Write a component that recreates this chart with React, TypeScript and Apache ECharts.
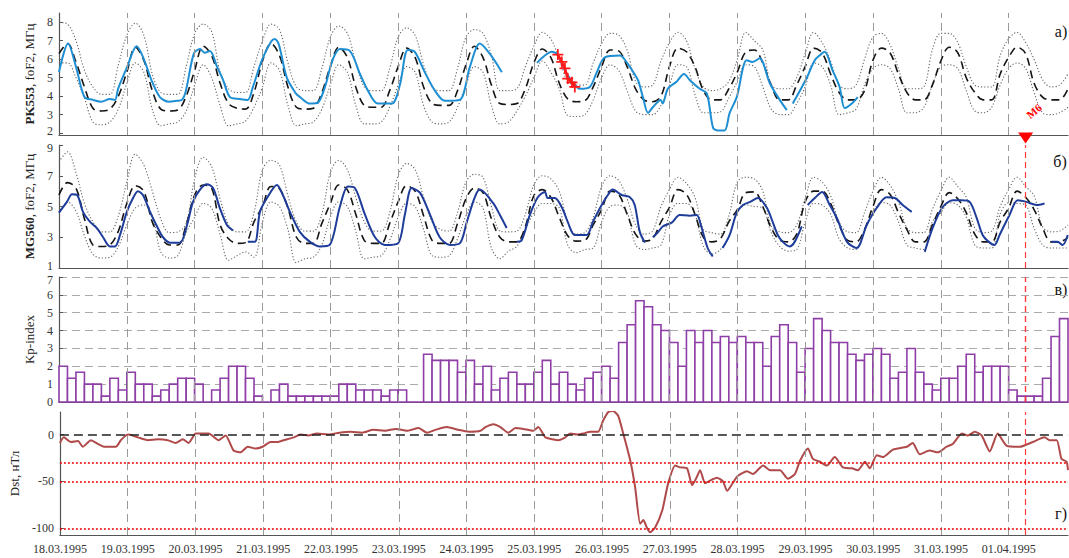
import React, { useEffect, useRef } from 'react';
import * as echarts from 'echarts';

const FONT = '"Liberation Serif", "Times New Roman", serif';

// x axis: hours since 18.03.1995 00:00 UT
const dayTicks = [0, 24, 48, 72, 96, 120, 144, 168, 192, 216, 240, 264, 288, 312, 336];
const dateLabels = ['18.03.1995', '19.03.1995', '20.03.1995', '21.03.1995', '22.03.1995', '23.03.1995', '24.03.1995',
  '25.03.1995', '26.03.1995', '27.03.1995', '28.03.1995', '29.03.1995', '30.03.1995', '31.03.1995', '01.04.1995'];
const STEP = 3; // hours between median/quartile samples
const END_HOUR = 357;
const M6_HOUR = 342;

// PK553 foF2 (MHz): 27-day median and quartiles, 3-hour samples
const medianA = [
  6.3, 6.85, 5.85, 4.5, 3.35, 3.2, 3.3, 4.0,
  5.3, 6.65, 5.95, 4.3, 3.3, 3.2, 3.25, 4.0,
  5.4, 6.7, 6.2, 4.7, 3.6, 3.35, 3.3, 4.2,
  5.9, 6.85, 6.2, 4.5, 3.4, 3.3, 3.35, 4.2,
  5.6, 6.65, 6.1, 4.5, 3.5, 3.4, 3.4, 4.3,
  5.6, 6.6, 6.1, 4.5, 3.6, 3.5, 3.5, 4.3,
  5.7, 6.7, 6.1, 4.6, 3.6, 3.55, 3.6, 4.4,
  5.8, 6.55, 6.1, 4.7, 3.85, 3.7, 3.75, 4.5,
  5.6, 6.5, 6.45, 5.6, 4.4, 3.8, 3.7, 4.0,
  5.6, 6.6, 6.4, 5.6, 4.3, 3.8, 3.8, 4.4,
  5.3, 6.4, 6.5, 5.8, 4.6, 3.8, 3.8, 4.6,
  5.6, 6.6, 6.35, 5.2, 4.2, 3.8, 3.8, 4.3,
  5.95, 6.6, 6.35, 5.2, 4.2, 3.8, 3.8, 4.6,
  5.9, 6.65, 6.35, 5.0, 4.2, 3.8, 3.8, 5.2,
  6.1, 6.65, 6.3, 4.7, 3.95, 3.8, 3.8, 4.4,
];
const upperA = [
  8.0, 7.9, 7.0, 5.4, 4.5, 4.1, 4.1, 5.7,
  7.3, 7.95, 7.3, 5.2, 4.2, 4.1, 4.1, 5.6,
  7.4, 7.9, 7.5, 5.3, 4.4, 4.2, 4.2, 5.6,
  7.0, 7.9, 7.6, 5.8, 4.5, 4.3, 4.3, 5.5,
  7.2, 7.8, 7.4, 5.8, 4.5, 4.3, 4.3, 5.5,
  7.2, 7.7, 7.3, 5.7, 4.5, 4.3, 4.3, 5.5,
  7.2, 7.6, 7.4, 6.2, 4.3, 4.3, 4.4, 5.6,
  6.7, 7.45, 7.1, 6.0, 4.8, 4.6, 4.6, 5.8,
  6.85, 7.4, 7.3, 6.5, 4.8, 4.5, 4.6, 5.9,
  6.9, 7.45, 7.0, 5.5, 4.5, 4.3, 4.4, 4.8,
  6.0, 7.45, 7.0, 6.5, 4.6, 4.4, 4.4, 5.0,
  6.3, 7.45, 6.9, 5.9, 4.6, 4.4, 4.6, 6.0,
  7.2, 7.4, 6.8, 5.5, 4.4, 4.4, 4.5, 6.5,
  7.4, 7.4, 6.9, 5.6, 4.6, 4.5, 4.5, 6.2,
  7.1, 7.45, 6.9, 6.0, 4.9, 4.5, 4.6, 5.2,
];
const lowerA = [
  5.8, 5.8, 5.0, 3.9, 2.6, 2.45, 2.6, 3.3,
  4.7, 5.8, 5.3, 3.3, 2.4, 2.5, 2.6, 3.2,
  4.6, 5.7, 5.0, 3.5, 2.4, 2.5, 2.65, 3.4,
  4.5, 5.8, 5.4, 3.5, 2.4, 2.5, 2.6, 3.3,
  4.6, 5.7, 5.3, 3.5, 2.5, 2.5, 2.6, 3.4,
  4.6, 5.6, 5.3, 3.5, 2.6, 2.5, 2.6, 3.4,
  4.6, 5.6, 5.3, 3.5, 2.5, 2.6, 3.2, 4.0,
  5.0, 5.9, 5.3, 4.4, 2.95, 2.9, 3.0, 3.8,
  5.0, 5.7, 5.4, 4.3, 3.2, 3.0, 3.0, 3.5,
  4.6, 5.7, 5.6, 4.1, 3.1, 3.1, 3.15, 3.9,
  4.8, 5.7, 5.6, 4.5, 3.3, 3.0, 3.0, 3.6,
  4.5, 5.8, 5.6, 4.6, 3.0, 3.1, 3.3, 4.6,
  5.5, 5.7, 5.5, 4.4, 3.1, 3.1, 3.4, 4.6,
  5.6, 5.7, 5.5, 4.3, 3.2, 3.1, 3.4, 4.6,
  5.5, 5.8, 5.5, 4.2, 3.1, 3.0, 3.1, 3.4,
];

// MG560 foF2 (MHz): 27-day median and quartiles, 3-hour samples
const medianB = [
  5.75, 6.55, 6.2, 4.2, 2.5, 2.4, 2.5, 3.4,
  5.2, 6.35, 6.0, 4.0, 3.0, 2.5, 2.5, 3.8,
  5.75, 6.4, 6.2, 3.8, 2.9, 2.6, 2.65, 4.0,
  5.0, 6.3, 6.15, 4.9, 3.0, 2.6, 2.6, 3.9,
  5.2, 6.4, 6.1, 4.5, 2.8, 2.6, 2.6, 3.9,
  5.3, 6.35, 6.0, 4.4, 2.8, 2.6, 2.6, 3.9,
  5.5, 6.2, 5.9, 4.2, 3.0, 2.7, 2.7, 3.7,
  5.7, 6.1, 5.6, 4.3, 3.1, 2.75, 2.8, 3.8,
  4.8, 6.0, 5.8, 4.5, 3.2, 2.75, 2.9, 4.0,
  4.95, 6.1, 5.8, 4.5, 3.0, 2.7, 2.9, 4.0,
  4.8, 5.9, 5.95, 5.0, 3.6, 2.8, 2.7, 3.2,
  5.3, 6.0, 6.0, 5.2, 3.8, 2.8, 2.7, 3.5,
  5.0, 6.1, 5.8, 4.6, 3.5, 2.7, 2.7, 3.8,
  5.0, 5.9, 5.5, 4.6, 3.2, 2.7, 2.7, 4.0,
  4.9, 6.0, 5.6, 4.8, 3.6, 2.7, 2.7, 3.0,
];
const upperB = [
  7.9, 8.55, 7.2, 5.2, 4.0, 3.35, 3.35, 4.4,
  6.6, 8.4, 7.7, 6.0, 4.2, 3.3, 3.35, 3.9,
  6.8, 8.2, 7.6, 5.5, 3.8, 3.35, 3.35, 4.6,
  7.4, 8.0, 7.7, 5.7, 4.0, 3.4, 3.4, 4.5,
  7.2, 8.0, 7.4, 5.6, 4.0, 3.4, 3.4, 4.6,
  7.0, 7.8, 7.4, 5.6, 4.0, 3.5, 3.4, 4.6,
  6.6, 7.1, 6.9, 5.0, 3.4, 3.35, 3.4, 4.5,
  6.4, 7.0, 6.8, 6.0, 4.0, 3.2, 3.3, 4.3,
  6.3, 7.0, 6.7, 5.5, 3.8, 3.2, 3.4, 5.0,
  6.1, 6.9, 6.5, 5.6, 3.5, 3.3, 3.2, 4.4,
  6.6, 6.9, 6.8, 6.0, 3.7, 3.35, 3.3, 3.8,
  5.5, 6.9, 6.6, 5.7, 4.0, 3.35, 3.3, 4.6,
  6.0, 6.9, 6.4, 5.3, 3.6, 3.3, 3.3, 4.8,
  6.0, 6.9, 6.3, 5.6, 3.6, 3.3, 3.4, 5.0,
  6.1, 6.9, 6.3, 5.7, 3.7, 3.35, 3.4, 3.8,
];
const lowerB = [
  4.6, 5.3, 4.7, 3.1, 1.9, 1.65, 1.7, 2.4,
  3.8, 4.9, 5.1, 4.4, 2.05, 1.65, 1.8, 3.3,
  4.3, 5.2, 4.9, 3.2, 1.5, 1.8, 2.05, 1.7,
  4.0, 5.3, 5.0, 3.5, 1.35, 1.6, 1.7, 2.5,
  4.3, 5.3, 5.0, 3.4, 1.6, 1.7, 1.8, 2.8,
  4.3, 5.2, 5.0, 3.5, 1.8, 1.7, 1.8, 2.9,
  4.4, 5.3, 4.9, 2.3, 1.6, 2.1, 2.4, 3.5,
  4.6, 5.2, 5.2, 4.9, 2.5, 2.0, 2.2, 2.3,
  4.0, 5.0, 5.1, 4.6, 2.5, 2.2, 2.3, 2.5,
  4.45, 5.2, 5.2, 4.5, 2.4, 1.9, 2.2, 3.0,
  4.6, 5.1, 5.0, 4.9, 3.3, 2.4, 2.1, 2.2,
  4.0, 5.2, 5.1, 4.5, 2.9, 2.3, 2.2, 3.5,
  4.7, 5.25, 5.1, 4.0, 2.5, 2.3, 2.2, 4.0,
  4.6, 5.25, 5.1, 4.3, 2.5, 2.3, 2.3, 4.5,
  5.25, 5.2, 5.1, 3.6, 2.5, 2.3, 2.3, 2.3,
];

// Observed foF2 [hour, MHz]; null marks a data gap
const pk553Obs: [number, number | null][] = [
  [0, 5.3], [3.2, 6.85], [6, 5.6], [9, 3.96], [12, 3.8], [14.9, 3.7], [18, 3.85], [19.8, 3.8], [20.9, 4.4],
  [23.9, 5.5], [27.5, 6.7], [29.9, 6.05], [32.9, 4.8], [35.7, 3.95], [38.9, 3.7], [41.7, 3.75], [43.5, 3.8],
  [44.9, 4.3], [47.7, 6.3], [49.9, 6.55], [51.6, 6.35], [53.4, 6.45], [55.9, 5.6], [58, 4.9], [60.5, 3.95],
  [64, 3.85], [66.8, 3.8], [68.6, 4.5], [71.8, 5.95], [75, 6.95], [76.4, 7.1], [77.8, 6.8], [80.6, 5.0],
  [83.8, 4.15], [85.2, 3.96], [88.8, 3.6], [91.6, 3.65], [94.1, 4.5], [96.9, 6.0], [99.4, 6.55], [102.9, 6.45],
  [106.5, 5.2], [109.3, 4.3], [112.8, 3.6], [117.8, 3.6], [120.6, 4.6], [123.4, 6.5], [125.9, 6.4], [129.4, 5.3],
  [133, 4.3], [136.5, 3.75], [141.8, 3.8], [145.4, 5.6], [148.9, 6.85], [152.4, 6.3], [156.7, 5.3],
  [162, null],
  [169.1, 5.8], [171.9, 6.2], [174.4, 6.4], [176.5, 6.2], [179, 5.4], [181.5, 4.8], [184.3, 4.4], [187.8, 4.5],
  [190.3, 5.3], [193.1, 6.1], [198.5, 6.2], [201, 5.8], [203.2, 5.3], [204.9, 4.85], [206.6, 3.95], [208.4, 3.1],
  [210.1, 3.4], [212.9, 3.8], [213.6, 3.6], [215.4, 4.4], [218.6, 4.8], [221.1, 5.2], [223.3, 4.85], [226.7, 4.4],
  [229.2, 4.15], [231.4, 2.3], [233.1, 2.15], [235.5, 2.15], [237.3, 3.1], [239.8, 3.95], [243.3, 5.95],
  [245.4, 5.85], [247.9, 6.05], [251.5, 4.7], [255, 3.8], [257.5, 3.25],
  [258.5, null],
  [259.6, 3.6], [264.6, 5.0], [267.4, 5.95], [269.1, 6.2], [270.9, 6.4], [273.7, 5.4], [276.2, 4.5], [278, 3.35],
  [280.5, 3.6], [282.6, 3.95],
];
// flagged (red) PK553 values
const pk553Flagged: [number, number][] = [
  [176.5, 6.25], [177.9, 5.85], [179, 5.5], [180, 4.95], [181.5, 4.75], [182.5, 4.5],
];
const mg560Obs: [number, number | null][] = [
  [0, 4.6], [2.8, 5.3], [4.6, 5.8], [6.4, 5.75], [8.5, 4.65], [11, 4.0], [13.4, 3.6], [15.6, 3.0], [18, 2.4],
  [19.8, 2.4], [21.6, 3.15], [24, 4.65], [26.2, 5.55], [27.9, 6.0], [29.7, 5.75], [32.2, 4.65], [34.7, 3.7],
  [36.8, 3.0], [39.3, 2.65], [42.8, 2.65], [45.3, 3.8], [47.4, 5.3], [49.9, 6.1], [52.3, 6.45], [54.5, 6.2],
  [56.9, 4.9], [59.4, 3.8], [61.5, 3.45],
  [64, null],
  [66.8, 2.7], [69.3, 2.7], [71.1, 4.65], [73.6, 5.55], [77.1, 6.4], [79.2, 5.75], [81.7, 4.65], [85.2, 3.35],
  [88.8, 2.7], [92.3, 2.4], [95.8, 2.5], [99.4, 5.0], [102.2, 6.3], [104.7, 6.2], [108.2, 4.5], [111.8, 3.0],
  [115.3, 2.5], [119.9, 2.6], [122.4, 4.5], [124.8, 6.2], [127.7, 5.9], [131.2, 4.5], [134.7, 3.0], [138.3, 2.5],
  [141.8, 2.6], [144.3, 4.0], [147.1, 5.6], [148.9, 6.1], [153.5, 5.25], [156, 4.45], [158.4, 3.6],
  [160, null],
  [162, 2.7], [163.7, 2.8], [166.6, 4.45], [169.4, 5.6], [171.9, 5.95], [172.9, 5.55], [175.4, 5.55],
  [177.9, 4.95], [180, 4.0], [182.5, 3.15], [186.7, 3.15], [188.9, 4.0], [192, 5.1], [194.2, 5.75], [195.9, 6.1],
  [199.1, 5.75], [202, 5.6], [203.7, 5.1], [205.5, 3.35], [207.3, 2.65],
  [208.5, null],
  [210.1, 3.0], [211.8, 3.3], [213.6, 3.7], [216.8, 3.95], [219.6, 4.45], [223.2, 4.4], [225.6, 4.45],
  [227.4, 3.6], [229.5, 2.3], [231.3, 1.75],
  [233, null],
  [234.8, 2.3], [237.3, 3.15], [239.8, 4.6], [242, 5.1], [244.5, 5.3], [247.3, 5.55], [250.5, 4.9], [252.5, 4.0],
  [254.3, 3.15], [256.1, 2.7], [258.5, 2.4], [260.3, 2.7], [262.8, 3.7],
  [263.8, null],
  [264.9, 5.1], [267.4, 5.55], [270, 5.95], [272.7, 5.1], [275.2, 4.25], [278.8, 2.7], [282.2, 2.3], [285.8, 3.8],
  [289.3, 4.9], [292.8, 5.6], [295.7, 5.55], [298.5, 5.1], [301.7, 4.65],
  [304, null],
  [306.3, 2.05], [309.1, 3.6], [312.6, 4.95], [316.2, 5.4], [319.4, 5.4], [322.2, 5.3], [324.7, 4.25],
  [326.8, 3.15], [329.3, 2.65], [331, 2.5], [332.8, 3.15], [336.3, 4.45], [339.2, 5.4], [342.3, 5.3],
  [345.9, 5.1], [348.7, 5.2],
  [350, null],
  [351.2, 2.7], [353.3, 2.7], [355.1, 2.5], [356.9, 3.15],
];

// Kp index, 3-hour bars from 18.03.1995 00 UT
const kpValues = [
  2, 1.33, 1.67, 1, 1, 0.33, 1.33, 0.67, 1.67, 1, 1, 0.33, 0.67, 1, 1.33, 1.33, 1, 0, 0.67, 1.33,
  2, 2, 1.33, 0.33, 0, 0.67, 1, 0.33, 0.33, 0.33, 0.33, 0.33, 0.33, 1, 1, 0.67, 0.67, 0.67, 0.33, 0.67,
  0.67, 0, 0, 2.67, 2.33, 2.33, 2.33, 1.67, 2.33, 1, 2, 0.67, 1.33, 1.67, 1, 1, 1.67, 2.33, 1, 1.67,
  1, 0.67, 1.33, 1.67, 2, 1.33, 3.33, 4.33, 5.67, 5.33, 4.33, 4, 3.33, 2, 4, 3.33, 4, 3.33, 3.67, 3.33,
  3.67, 3.33, 3.33, 2, 3.67, 4.33, 3.33, 1.67, 3, 4.67, 4, 3.33, 3.33, 2.67, 2.33, 2.67, 3, 2.67, 1.33, 1.67,
  3, 1.67, 1, 0.67, 1.33, 1.33, 2, 2.67, 1.67, 2, 2, 2, 0.67, 0.33, 0.33, 0.33, 1.33, 3.67, 4.67,
];

// Dst index (nT)
const dstHours = [
  0, 1.4, 3.9, 6.4, 8.1, 11, 13.4, 15.6, 19.8, 21.6, 23.3, 24.4, 27.6, 31.1, 34.7, 38.2, 41, 43.5, 45.6, 48.1,
  49.9, 52.7, 56.2, 58.7, 61.5, 64, 66.5, 69.3, 71.8, 74.6, 77.1, 79.2, 82.8, 85.2, 88, 91, 95, 99, 103, 107,
  111, 115, 119, 123, 127, 130, 133, 137, 141, 145, 148.9, 150.7, 153.5, 156, 158.8, 161.3, 164.1, 167.6, 169.4,
  171.9, 174.4, 176.5, 179, 180.7, 183.2, 185.3, 187.8, 190.6, 192.4, 194.2, 195.9, 197.7, 199.5, 202, 203.7,
  205.5, 206.6, 208, 209, 210.8, 213.3, 215.4, 217.9, 219.6, 222.1, 223.9, 225.6, 226.7, 228.5, 230.2, 232.7,
  234.8, 236.3, 238.4, 240.1, 243.3, 245.4, 249, 251.5, 255, 257.8, 260.3, 262.1, 264.9, 266.7, 269.1, 271.6,
  274.4, 277.3, 280.5, 282.6, 285.1, 286.8, 289.3, 291.4, 295, 299.9, 302, 304.5, 308, 310.9, 314, 316.2,
  319.4, 321.5, 324, 326.4, 329.3, 332.1, 335.3, 339.9, 344.5, 348.7, 350.5, 353, 354.7, 356.5, 357,
];
const dstValues = [
  -9, -3, -8, -7, -13, -6, -10, -13, -13, -6, -1, 0, -3, -6, -5, -6, -9, -5, -9, 1,
  1, 1, -6, -1, -17, -19, -13, -15, -13, -8, -8, -6, -3, 0, -1, 1, 0, 2, 3, 2,
  5, 4, 6, 4, 7, 2, 5, 8, 5, 3, 4, 8, 11, 8, 2, 7, 6, 4, 8,
  -3, -5, -6, -3, 1, 0, 1, 3, 3, 15, 24, 25, 20, 1, -28, -56,
  -95, -91, -100, -104, -99, -81, -52, -33, -35, -36, -54, -45, -38, -52, -49, -46,
  -50, -60, -51, -44, -39, -42, -33, -38, -38, -47, -42, -28, -15, -26, -29, -33,
  -24, -35, -36, -38, -29, -36, -22, -24, -16, -13, -9, -21, -17, -19, -13, -10,
  1, -1, 3, -1, -18, 1, -12, -13, -8, -3, -6, -6, -26, -29, -38,
];
const dstMarkLevels = [-30, -50, -100];

const gridSpecs = [
  { top: 13, height: 122 },
  { top: 145, height: 123 },
  { top: 277, height: 125 },
  { top: 412, height: 123 },
];

function toPairs(values: number[]) {
  return values.map((v, i) => [i * STEP, v]);
}

export default function App() {
  const ref = useRef<HTMLDivElement>(null);
  useEffect(() => {
    if (!ref.current) return;
    const chart = echarts.init(ref.current, undefined, { renderer: 'svg' });

    const axisColor = '#555';
    const labelStyle = { fontFamily: FONT, fontSize: 12, color: '#333' };
    // labels sitting at a panel edge are nudged a little away from the neighbouring panel
    const yRich = {
      up: { ...labelStyle, padding: [0, 0, 5, 0] },
      down: { ...labelStyle, padding: [5, 0, 0, 0] },
    };
    const edgeFormatter = (upVals: number[], downVals: number[]) => (v: number) =>
      upVals.includes(v) ? `{up|${v}}` : downVals.includes(v) ? `{down|${v}}` : String(v);
    const dayLineData = dayTicks.slice(1).map((d) => ({ xAxis: d }));
    const m6Line = { xAxis: M6_HOUR, lineStyle: { color: '#ff3b3b', type: [6, 4], width: 1.2 } };

    const xAxes = gridSpecs.map((_, i) => ({
      type: 'value',
      gridIndex: i,
      min: 0,
      max: END_HOUR,
      axisLine: { show: true, onZero: false, lineStyle: { color: axisColor, width: 1.2 } },
      axisTick: { show: true, inside: true, length: 5, customValues: dayTicks, lineStyle: { color: axisColor } },
      axisLabel: i === 3
        ? { show: true, margin: 8, customValues: dayTicks, ...labelStyle,
            formatter: (v: number) => dateLabels[Math.round(v / 24)] ?? '' }
        : { show: false },
      splitLine: { show: false },
    }));

    const nameStyle = { fontFamily: FONT, fontSize: 13, color: '#222' };
    const richName = { ...nameStyle, rich: { b: { ...nameStyle, fontWeight: 'bold' } } };

    const yBase = (i: number, extra: any) => ({
      type: 'value',
      gridIndex: i,
      axisLine: { show: true, lineStyle: { color: axisColor, width: 1.2 } },
      axisTick: { show: true, inside: true, length: 4, lineStyle: { color: axisColor } },
      axisLabel: { show: true, margin: 6, ...labelStyle },
      splitLine: { show: false },
      nameLocation: 'middle',
      nameRotate: 90,
      nameTextStyle: nameStyle,
      ...extra,
    });

    const yAxes = [
      yBase(0, {
        min: 1.9, max: 8.5,
        axisTick: { show: true, inside: true, length: 4, customValues: [2, 3, 4, 5, 6, 7, 8], lineStyle: { color: axisColor } },
        axisLabel: { show: true, margin: 6, customValues: [2, 3, 4, 5, 6, 7, 8], ...labelStyle,
          formatter: edgeFormatter([2], []), rich: yRich },
        name: '{b|PK553}, foF2, МГц', nameGap: 18, nameTextStyle: richName,
      }),
      yBase(1, {
        min: 1, max: 9,
        axisTick: { show: true, inside: true, length: 4, customValues: [1, 3, 5, 7, 9], lineStyle: { color: axisColor } },
        axisLabel: { show: true, margin: 6, customValues: [1, 3, 5, 7, 9], ...labelStyle,
          formatter: edgeFormatter([1], [9]), rich: yRich },
        name: '{b|MG560}, foF2, МГц', nameGap: 18, nameTextStyle: richName,
      }),
      yBase(2, {
        min: 0, max: 7, interval: 1,
        axisLabel: { show: true, margin: 6, ...labelStyle, formatter: edgeFormatter([], [7]), rich: yRich },
        splitLine: { show: true, lineStyle: { color: '#aaa', type: [8, 5], width: 1 } },
        name: 'Kp-index', nameGap: 18,
      }),
      yBase(3, {
        min: -107, max: 24,
        axisTick: { show: true, inside: true, length: 4, customValues: [-100, -50, 0], lineStyle: { color: axisColor } },
        axisLabel: { show: true, margin: 6, customValues: [-100, -50, 0], ...labelStyle },
        name: 'Dst, нТл', nameGap: 34,
      }),
    ];

    const dotted = (data: number[][], gi: number) => ({
      type: 'line', xAxisIndex: gi, yAxisIndex: gi, data, showSymbol: false, smooth: 0.35, z: 2,
      lineStyle: { color: '#666', width: 1.1, type: [1.2, 2] }, silent: true,
    });
    const dashed = (data: number[][], gi: number) => ({
      type: 'line', xAxisIndex: gi, yAxisIndex: gi, data, showSymbol: false, smooth: 0.35, z: 3,
      lineStyle: { color: '#151515', width: 1.6, type: [8, 5] }, silent: true,
    });
    const markHolder = (gi: number, data: any[], extra: any = {}) => ({
      type: 'line', xAxisIndex: gi, yAxisIndex: gi, data: [], z: 1, silent: true,
      markLine: {
        silent: true, symbol: 'none', animation: false, label: { show: false },
        lineStyle: { color: '#9a9a9a', type: [8, 5], width: 1 },
        data,
      },
      ...extra,
    });

    const plusPath = 'path://M-1,-0.16H1V0.16H-1Z M-0.16,-1H0.16V1H-0.16Z';

    const option: any = {
      animation: false,
      backgroundColor: '#fff',
      grid: gridSpecs.map((g) => ({ left: 59, right: 1, top: g.top, height: g.height, containLabel: false })),
      xAxis: xAxes,
      yAxis: yAxes,
      series: [
        // panel a
        markHolder(0, dayLineData, {
          markPoint: {
            silent: true, animation: false,
            data: [
              { coord: [M6_HOUR, 1.9], symbol: 'triangle', symbolSize: [15, 11], symbolRotate: 180, symbolOffset: [0, 3],
                itemStyle: { color: '#ff0000' }, label: { show: false } },
              { coord: [M6_HOUR + 3, 3.2], symbol: 'circle', symbolSize: 0,
                label: { show: true, position: 'inside', formatter: 'M6', rotate: 40, color: '#ff0000',
                  fontFamily: FONT, fontSize: 11, fontWeight: 'bold' } },
            ],
          },
        }),
        dotted(toPairs(upperA), 0),
        dotted(toPairs(lowerA), 0),
        dashed(toPairs(medianA), 0),
        {
          type: 'line', xAxisIndex: 0, yAxisIndex: 0, data: pk553Obs, showSymbol: false, smooth: 0.3, connectNulls: false, z: 4,
          lineStyle: { color: '#1f8fd3', width: 2 }, silent: true,
        },
        {
          type: 'line', xAxisIndex: 0, yAxisIndex: 0, data: pk553Flagged, symbol: plusPath, symbolSize: 11, showSymbol: true, z: 5,
          lineStyle: { color: '#ff1a1a', width: 2.5 }, itemStyle: { color: '#ff1a1a', borderWidth: 0 }, silent: true,
        },
        // panel b
        markHolder(1, [...dayLineData, m6Line]),
        dotted(toPairs(upperB), 1),
        dotted(toPairs(lowerB), 1),
        dashed(toPairs(medianB), 1),
        {
          type: 'line', xAxisIndex: 1, yAxisIndex: 1, data: mg560Obs, showSymbol: false, smooth: 0.3, connectNulls: false, z: 4,
          lineStyle: { color: '#1e3c9a', width: 2 }, silent: true,
        },
        // panel c
        markHolder(2, [...dayLineData, m6Line]),
        {
          type: 'custom', xAxisIndex: 2, yAxisIndex: 2, z: 3, silent: true,
          data: kpValues.map((v, i) => [i * 3, v]),
          encode: { x: 0, y: 1 },
          renderItem: (_params: any, api: any) => {
            const start = api.value(0);
            const kp = api.value(1);
            const p0 = api.coord([start, kp]);
            const p1 = api.coord([start + 3, 0]);
            return {
              type: 'rect',
              shape: { x: p0[0], y: p0[1], width: p1[0] - p0[0], height: p1[1] - p0[1] },
              style: { fill: '#ffffff', stroke: '#8e3fa6', lineWidth: 1.6 },
            };
          },
        },
        markHolder(2, [m6Line], { z: 4 }),
        // panel d
        markHolder(3, [
          ...dayLineData,
          m6Line,
          { yAxis: 0, lineStyle: { color: '#222', type: [9, 5], width: 1.5 } },
          ...dstMarkLevels.map((lv) => ({ yAxis: lv, lineStyle: { color: '#ee0000', type: [2, 2], width: 1.5 } })),
        ]),
        {
          type: 'line', xAxisIndex: 3, yAxisIndex: 3, data: dstHours.map((h, i) => [h, dstValues[i]]),
          showSymbol: false, smooth: 0.2, z: 4, lineStyle: { color: '#b04a4a', width: 2 }, silent: true,
        },
      ],
      graphic: [
        { type: 'text', x: 1061, y: 31, style: { text: 'а)', font: `16px ${FONT}`, fill: '#111', align: 'center', verticalAlign: 'middle', textAlign: 'center', textVerticalAlign: 'middle' } },
        { type: 'text', x: 1060, y: 161, style: { text: 'б)', font: `16px ${FONT}`, fill: '#111', align: 'center', verticalAlign: 'middle', textAlign: 'center', textVerticalAlign: 'middle' } },
        { type: 'text', x: 1061, y: 289, style: { text: 'в)', font: `16px ${FONT}`, fill: '#111', align: 'center', verticalAlign: 'middle', textAlign: 'center', textVerticalAlign: 'middle' } },
        { type: 'text', x: 1061, y: 513, style: { text: 'г)', font: `16px ${FONT}`, fill: '#111', align: 'center', verticalAlign: 'middle', textAlign: 'center', textVerticalAlign: 'middle' } },
      ],
    };

    chart.setOption(option);
    return () => chart.dispose();
  }, []);

  return <div ref={ref} style={{ position: 'fixed', left: 0, top: 0, width: 1069, height: 558, background: '#fff' }} />;
}
